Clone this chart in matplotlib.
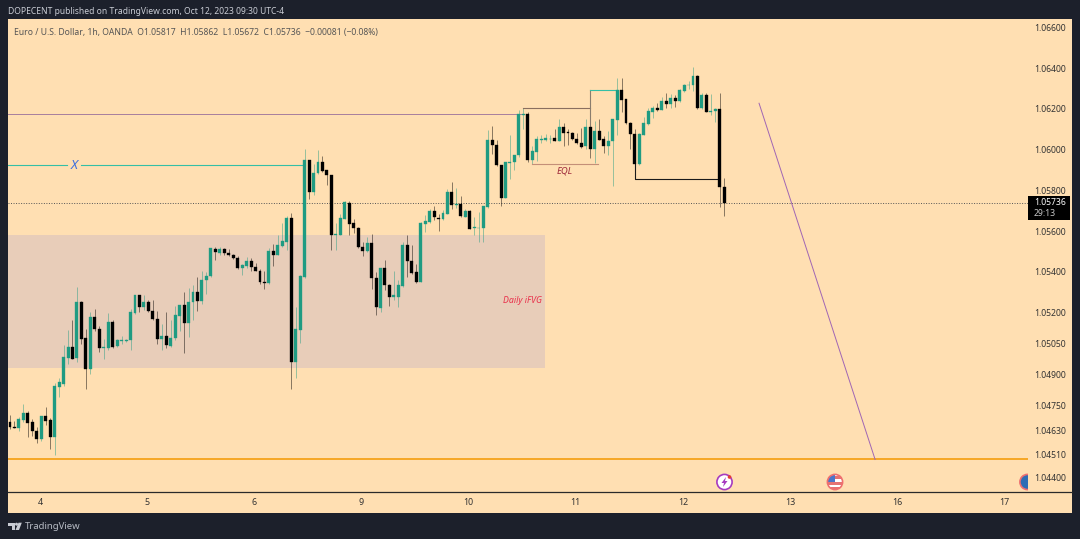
import numpy as np
import matplotlib
matplotlib.use("Agg")
import matplotlib.pyplot as plt
from matplotlib.patches import Rectangle, Circle, Polygon

FONT = "Noto Sans"
plt.rcParams["font.family"] = [FONT, "DejaVu Sans"]

# EUR/USD 1h candles, in 1e-5 price units
opens = [104667,104647,104639,104680,104713,104669,104626,104586,104700,104680,
104597,104841,104854,104978,105035,104978,105252,105076,104928,105179,
105122,105029,105027,105154,105037,105062,105063,105066,105200,105288,
105229,105252,105207,105172,105071,105086,105039,105076,105187,105239,
105153,105252,105303,105257,105360,105378,105513,105495,105511,105495,
105484,105467,105417,105431,105453,105425,105407,105352,105345,105503,
105484,105528,105547,105665,104962,105117,105374,105948,105793,105883,
105937,105898,105875,105581,105583,105661,105740,105638,105617,105524,
105501,105540,105372,105226,105418,105337,105279,105280,105329,105530,
105455,105398,105352,105635,105643,105696,105666,105658,105686,105791,
105728,105732,105670,105697,105616,105614,105614,105717,106046,106021,
105923,105760,105936,105941,105972,106170,106174,105949,105988,106047,
106047,106051,106059,106044,106111,106085,106083,106054,106031,106018,
106111,106001,106092,106051,106018,106042,106146,106293,106247,106133,
106079,105929,106074,106126,106185,106203,106195,106238,106225,106254,
106239,106288,106316,106318,106362,106203,106270,106187,106188,106200,
105817]
highs = [104705,104675,104691,104757,104721,104683,104643,104700,104740,104688,
104858,104884,105042,105115,105164,105324,105257,105119,105203,105218,
105135,105073,105200,105164,105075,105086,105075,105221,105288,105288,
105286,105262,105262,105210,105145,105203,105164,105233,105239,105303,
105321,105335,105376,105404,105402,105516,105521,105521,105516,105511,
105489,105479,105440,105475,105467,105446,105414,105407,105516,105537,
105581,105638,105674,105687,105231,105386,106005,105948,105929,106000,
105968,105899,105875,105638,105684,105748,105746,105658,105620,105547,
105571,105588,105400,105419,105457,105339,105405,105362,105547,105583,
105530,105441,105645,105678,105706,105725,105683,105702,105804,105841,
105812,105771,105709,105702,105670,105694,105722,106098,106115,106049,
105923,105938,106070,105975,106195,106203,106187,106018,106067,106070,
106077,106072,106100,106149,106129,106100,106087,106080,106105,106151,
106126,106141,106149,106067,106092,106149,106351,106351,106249,106138,
106100,106080,106159,106203,106215,106228,106261,106280,106274,106269,
106297,106323,106339,106405,106367,106277,106277,106274,106203,106277,
105862]
lows = [104634,104638,104626,104667,104597,104599,104569,104577,104656,104537,
104509,104789,104846,104952,104977,104962,105050,104828,104900,105110,
105008,104977,105017,105027,105034,105050,105058,105021,105197,105205,
105216,105203,105167,105047,105017,105027,105034,105066,105114,105003,
105081,105166,105207,105244,105293,105374,105456,105484,105484,105479,
105462,105415,105387,105418,105407,105404,105339,105319,105342,105427,
105484,105524,105508,104827,104885,105055,105370,105757,105777,105880,
105891,105826,105505,105508,105581,105658,105580,105591,105519,105478,
105498,105315,105192,105203,105310,105234,105264,105228,105326,105375,
105391,105346,105349,105596,105640,105656,105601,105653,105683,105706,
105715,105670,105670,105611,105580,105547,105547,105715,105977,105918,
105722,105760,105853,105899,105965,106100,105941,105929,105942,106031,
106042,106034,106042,106041,106018,106024,106047,106028,106010,106001,
105957,105936,106047,105985,105972,105823,106070,106187,106126,106001,
105928,105926,106072,106123,106154,106192,106195,106203,106206,106211,
106236,106285,106300,106290,106200,106200,106184,106170,106138,105719,
105672]
closes = [104646,104641,104683,104713,104665,104626,104587,104700,104675,104597,
104846,104861,104983,105035,104977,105252,105073,104928,105180,105120,
105027,105032,105154,105034,105066,105066,105070,105203,105288,105229,
105252,105207,105172,105071,105086,105042,105078,105189,105239,105153,
105252,105301,105257,105361,105381,105515,105498,105513,105495,105482,
105466,105418,105435,105453,105425,105407,105352,105348,105503,105484,
105531,105550,105666,104962,105120,105381,105948,105793,105886,105937,
105896,105873,105583,105586,105663,105743,105634,105616,105521,105501,
105540,105370,105228,105418,105334,105279,105285,105334,105532,105452,
105395,105352,105640,105647,105696,105668,105660,105689,105792,105728,
105733,105673,105699,105612,105619,105617,105722,106046,106021,105922,
105760,105938,105941,105975,106174,106175,105949,105993,106051,106054,
106059,106054,106042,106111,106083,106080,106051,106031,106015,106111,
106001,106092,106047,106018,106042,106149,106293,106246,106129,106077,
105929,106077,106129,106188,106203,106195,106239,106225,106252,106241,
106293,106318,106320,106362,106203,106270,106187,106190,106200,105818,
105736]

price_ticks = [1.066,1.064,1.062,1.060,1.058,1.056,1.054,1.052,1.0505,1.049,1.0475,1.0463,1.0451,1.044]
day_labels = ["4","5","6","9","10","11","12","13","16","17"]
bold_days = ["9","16"]

last_price = 1.05736
resistance = 1.06174
x_level = 1.05924
support = 1.04487
fvg_low, fvg_high = 1.04931, 1.05583
eql_level = 1.05928
box_high, box_mid, box_low = 1.06293, 1.06203, 1.06113
black_low, black_start = 1.05854, 1.05929
arrow_start, arrow_end = 1.06228, support

W, H = 1080, 539
PANEL = "#FFDFB2"
DARK = "#1C202B"
GREEN = "#1F9B82"
BLACK = "#000000"
TEAL = "#35BFA6"

fig = plt.figure(figsize=(W/100, H/100), dpi=100, facecolor=DARK)

def px_axes(z):
    a = fig.add_axes([0,0,1,1], zorder=z)
    a.set_xlim(0,W); a.set_ylim(H,0); a.axis("off"); a.patch.set_alpha(0)
    return a

bg = px_axes(0)
top = px_axes(5)
bg.add_patch(Rectangle((8,19),1064,493.5,fc=PANEL,ec="none"))
bg.plot([8,1072],[492,492],color="#2a2a2a",lw=0.9)

L,R,T,B = 8,1028,19,491.5
ax = fig.add_axes([L/W,1-B/H,(R-L)/W,(B-T)/H],zorder=2)
ax.patch.set_alpha(0)
for s in ax.spines.values(): s.set_visible(False)
ax.set_yscale("log")
ax.set_ylim(1.04332,1.06644)
ax.set_xlim(-0.448,228.05)

o = np.array(opens)/1e5; h = np.array(highs)/1e5; l = np.array(lows)/1e5; c = np.array(closes)/1e5
n = len(o); xs = np.arange(n)
colors = [GREEN if c[i]>=o[i] else BLACK for i in range(n)]

# zones and levels
ax.axhspan(fvg_low,fvg_high,xmin=0,xmax=(119.8+0.448)/(228.05+0.448),color="#E8CDB9",lw=0,zorder=1)
ax.axhline(last_price,color="#555555",lw=0.7,ls=(0,(1,1.6)),zorder=1.5)
ax.axhline(support,color="#F5A015",lw=1.25,zorder=1.5)
ax.plot([-0.448,115],[resistance,resistance],color="#A77F9E",lw=0.7,zorder=1.5)
ax.plot([-0.448,12.8],[x_level,x_level],color=TEAL,lw=0.8,zorder=1.5)
ax.plot([15.9,66],[x_level,x_level],color=TEAL,lw=0.8,zorder=1.5)
ax.text(14.3,x_level,"X",color="#3D6FE0",fontsize=9.5,style="italic",ha="center",va="center")

# candles
for i in range(n):
    ax.vlines(xs[i],l[i],h[i],color=colors[i],lw=0.5,alpha=0.65,zorder=2)
ax.bar(xs,np.abs(c-o),bottom=np.minimum(o,c),width=0.66,color=colors,edgecolor=colors,linewidth=0.25,zorder=3)

# drawings
ax.plot([114.9,130],[box_mid,box_mid],color="#8A6F5F",lw=0.8,zorder=2.5)
ax.plot([130,130],[box_high,box_low],color="#8A7D6D",lw=0.8,zorder=2.5)
ax.plot([130,136],[box_high,box_high],color=TEAL,lw=0.8,zorder=2.5)
ax.plot([116.9,131.8],[eql_level,eql_level],color="#C48F78",lw=0.8,zorder=2.5)
ax.text(124.3,1.05893,"EQL",color="#9E2A3A",fontsize=6.8,style="italic",ha="center",va="center")
ax.plot([139.9,139.9,158.9],[black_start,black_low,black_low],color="#1a1a1a",lw=0.8,zorder=2.5)
ax.plot([167.8,193.8],[arrow_start,arrow_end],color="#A066B4",lw=0.7,zorder=2.5)
ax.text(114.7,1.05261,"Daily iFVG",color="#E8304A",fontsize=6.3,style="italic",weight="bold",ha="center",va="center")

# axes
ax.yaxis.tick_right()
ax.set_yticks(price_ticks,[f"{v:.5f}" for v in price_ticks],minor=False)
ax.yaxis.set_minor_locator(matplotlib.ticker.NullLocator())
ax.tick_params(axis="y",length=0,pad=4.3,labelsize=6.2,labelcolor="#333333")
ticks = 6.72+24*np.arange(len(day_labels))
ax.set_xticks(ticks,day_labels)
ax.tick_params(axis="x",length=0,pad=4.8,labelsize=6.4,labelcolor="#333333")
for lb in ax.get_xticklabels():
    if lb.get_text() in bold_days:
        lb.set_fontweight("bold")

# texts
bg.text(8,11.5,"DOPECENT published on TradingView.com, Oct 12, 2023 09:30 UTC-4",color="#C9CCD4",fontsize=6.15,va="center")
bg.text(14,32,"Euro / U.S. Dollar, 1h, OANDA  O1.05817  H1.05862  L1.05672  C1.05736  \u22120.00081 (\u22120.08%)",color="#555555",fontsize=6.2,va="center")
bg.text(25,526.5,"TradingView",color="#B7BBC4",fontsize=6.9,va="center")
# logo
bg.add_patch(Polygon([(8,522.7),(15,522.7),(15,530),(11.5,530),(11.5,525.5),(8,525.5)],fc="#C9CCD4",ec="none"))
bg.add_patch(Circle((16.5,524.2),1.5,fc="#C9CCD4",ec="none"))
bg.add_patch(Polygon([(15.5,530),(18.5,522.7),(21.8,522.7),(19,530)],fc="#C9CCD4",ec="none"))

# last price tag
top.add_patch(Rectangle((1028,196),41.5,23.5,fc="#000000",ec="none"))
top.text(1034,202.8,"1.05736",color="#FFFFFF",fontsize=6.2,ha="left",va="center")
top.text(1034,213,"29:13",color="#C8C8C8",fontsize=6.2,ha="left",va="center")

# event icons
top.add_patch(Circle((724.5,482),7.6,fc="#FFFFFF",ec="#A63BC0",lw=1.2))
top.add_patch(Polygon([(726,477),(721.5,483),(724,483),(723,487),(727.5,481),(725,481)],fc="#A63BC0",ec="none"))
top.add_patch(Circle((729.5,477),1.8,fc="#E53935",ec="none"))

cp = Circle((835,482),7.5,transform=top.transData)
for y0,col in [(474,"#FFFFFF"),(476,"#E57373"),(479,"#FFFFFF"),(482,"#E57373"),(485,"#FFFFFF"),(487,"#E57373")]:
    r = top.add_patch(Rectangle((827,y0),16,3.2,fc=col,ec="none")); r.set_clip_path(cp)
r = top.add_patch(Rectangle((827,474),8,8,fc="#4A76C9",ec="none")); r.set_clip_path(cp)
top.add_patch(Circle((835,482),7.6,fc="none",ec="#EF6F6F",lw=1.2))

clipR = Rectangle((1010,470),18,24,transform=top.transData)
e = top.add_patch(Circle((1027.5,482),7.6,fc="#2F6DB5",ec="#EF6F6F",lw=1.2)); e.set_clip_path(clipR)

fig.savefig("out.png",dpi=100,facecolor=DARK)
